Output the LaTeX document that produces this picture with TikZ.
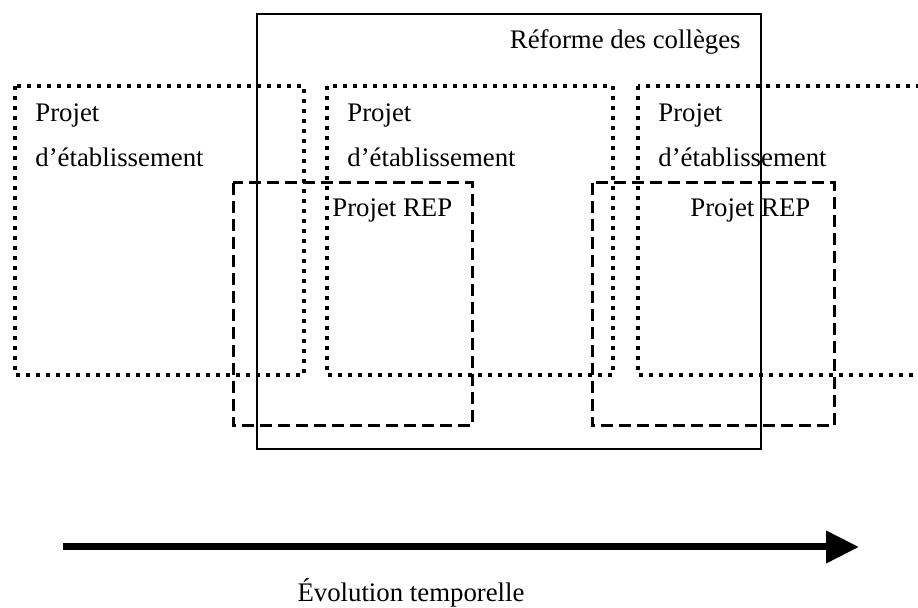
\documentclass[tikz,border=0pt]{standalone}
\usepackage{fontspec}
\setmainfont{Liberation Serif}
\usetikzlibrary{arrows.meta, positioning}
\tikzset{
	reformbox/.style={line width=1.25pt},
	etabbox/.style={line width=2pt, dash pattern=on 2pt off 3pt},
	repbox/.style={line width=1.5pt, dash pattern=on 6pt off 3pt},
	timearrow/.style={line width=3.5pt, -{Triangle[length=16.5pt,width=15.5pt]}},
	lbl/.style={font=\fontsize{13.4}{16}\selectfont, inner sep=0pt},
}
\begin{document}
\begin{tikzpicture}[x=0.5pt, y=-0.5pt]
	\useasboundingbox (0,0) rectangle (918,608);
	\draw[reformbox] (257,14) rectangle (761,449);
	\node[lbl, anchor=base east] (reforme) at (741,49) {Réforme des collèges};
	\foreach \i/\xl/\xr in {1/15/304, 2/327/613, 3/638/930} {
		\draw[etabbox] (\xl,86) rectangle (\xr,375);
		\node[lbl, anchor=base west] (projet\i) at (\xl+20,122) {Projet};
		\node[lbl, anchor=base west] (etab\i) at (\xl+20,167) {d’établissement};
	}
	\foreach \i/\xl/\xr/\xt in {1/233/472/332, 2/592/834/690} {
		\draw[repbox] (\xl,183) rectangle (\xr,426);
		\node[lbl, anchor=base west] (rep\i) at (\xt,217) {Projet REP};
	}
	\coordinate (tstart) at (63,547);
	\coordinate (tend) at (859,547);
	\draw[timearrow] (tstart) -- (tend);
	\node[lbl, anchor=base] (evol) at (411,602) {Évolution temporelle};
\end{tikzpicture}
\end{document}
